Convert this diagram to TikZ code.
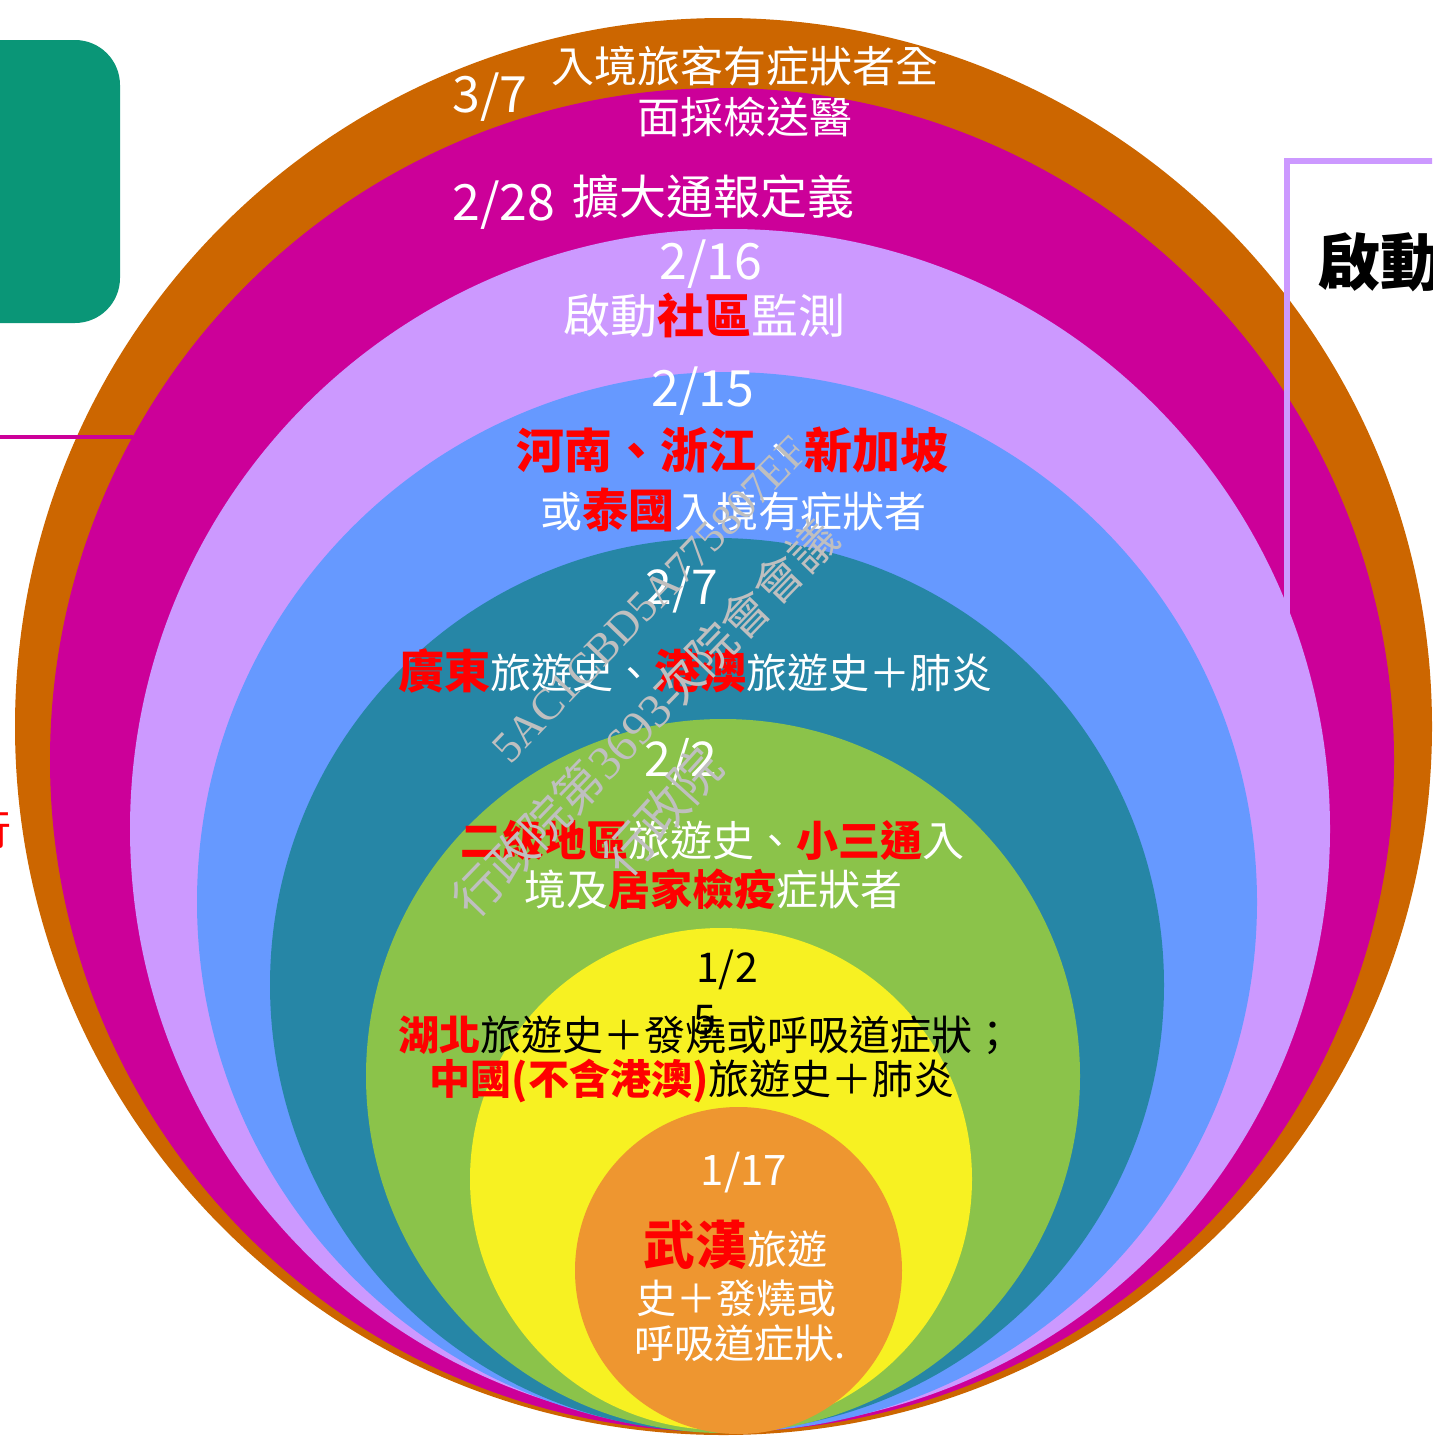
\documentclass[tikz,border=0pt]{standalone}
\usepackage{fontspec}
\usepackage{tikz}
\usepackage{xcolor}
\newfontfamily\cjk{Noto Sans CJK TC}
\newfontfamily\wmfont{Liberation Serif}
\definecolor{ringA}{HTML}{CC6600}
\definecolor{ringB}{HTML}{CC0099}
\definecolor{ringC}{HTML}{CC99FF}
\definecolor{ringD}{HTML}{6699FF}
\definecolor{ringE}{HTML}{2686A6}
\definecolor{ringF}{HTML}{8BC34A}
\definecolor{ringG}{HTML}{F7F122}
\definecolor{ringH}{HTML}{EE9630}
\definecolor{boxgreen}{HTML}{0A9677}
\newcommand{\fs}[1]{\fontsize{#1}{#1}\selectfont}
\newcommand{\hl}[2]{{\fs{#1}\bfseries\color{red}#2}}

\begin{document}
\begin{tikzpicture}[x=1pt,y=-1pt,
  every node/.style={inner sep=0pt,font=\cjk},
  date/.style={text=white},
  txt/.style={text=white},
  wm/.style={text=gray!50}]
\clip (0,0) rectangle (1432,1440);
% \draw[densely dotted] (0,0) grid[step=100] (1432,1440);
\fill[boxgreen,rounded corners=45pt] (-80,40) rectangle (120,323);
\fill[ringA] (723.5,726.5) circle (708.5pt);
\fill[ringB] (722,760) circle (672pt);
\fill[ringC] (730,829) circle (600pt);
\fill[ringD] (727,902) circle (530pt);
\fill[ringE] (717,985) circle (447pt);
\fill[ringF] (723,1076) circle (357pt);
\fill[ringG] (721,1179) circle (251pt);
\fill[ringH] (738.5,1270.5) circle (163.5pt);
\draw[ringB,line width=4pt] (0,437) -- (133,437);
\draw[ringC,line width=6pt] (1440,161) -- (1287,161) -- (1287,615);
\node[anchor=west,font=\cjk\bfseries\fs{62}] (qidong) at (1318,262) {啟動};
\node[anchor=east,text=red,font=\cjk\fs{42}] (cut) at (12,830) {行};

\node[date,font=\cjk\fs{50}] (d37) at (490,97) {3/7};
\node[txt,font=\cjk\fs{43}] (t37a) at (745,66) {入境旅客有症狀者全};
\node[txt,font=\cjk\fs{43}] (t37b) at (745,117) {面採檢送醫};

\node[date,font=\cjk\fs{50}] (d228) at (504,205) {2/28};
\node[txt,font=\cjk\fs{47}] (t228) at (713,197) {擴大通報定義};

\node[date,font=\cjk\fs{50}] (d216) at (711,264) {2/16};
\node[txt,font=\cjk\fs{47}] (t216) at (704,315) {啟動\hl{47}{社區}監測};

\node[date,font=\cjk\fs{50}] (d215) at (703,391) {2/15};
\node[txt,font=\cjk\fs{48}] (t215a) at (732,450) {\hl{48}{河南、浙江}、\hl{48}{新加坡}};
\node[txt,font=\cjk\fs{42}] (t215b) at (733,510) {或\hl{46}{泰國}入境有症狀者};

\node[date,font=\cjk\fs{48}] (d207) at (682,590) {2/7};
\node[txt,font=\cjk\fs{41}] (t207) at (695,671) {\hl{46}{廣東}旅遊史、\hl{46}{港澳}旅遊史＋肺炎};

\node[date,font=\cjk\fs{48}] (d202) at (681,762) {2/2};
\node[txt,font=\cjk\fs{42}] (t202a) at (712,840) {\hl{42}{二級地區}旅遊史、\hl{42}{小三通}入};
\node[txt,font=\cjk\fs{42}] (t202b) at (713,889) {境及\hl{42}{居家檢疫}症狀者};

\node[font=\cjk\fs{41}] (d125) at (727,970) {1/2};
\node[font=\cjk\fs{41}] (d125b) at (705,1020) {5};
\node[font=\cjk\fs{41}] (t125a) at (706,1035) {\hl{41}{湖北}旅遊史＋發燒或呼吸道症狀；};
\node[font=\cjk\fs{41}] (t125b) at (692,1081) {\hl{41}{中國(不含港澳)}旅遊史＋肺炎};

\node[date,font=\cjk\fs{42}] (d117) at (744,1173) {1/17};
\node[txt,font=\cjk\fs{40}] (t117a) at (735,1245) {\hl{52}{武漢}旅遊};
\node[txt,font=\cjk\fs{40}] (t117b) at (736,1298) {史＋發燒或};
\node[txt,font=\cjk\fs{40}] (t117c) at (740,1343) {呼吸道症狀.};

\node[wm,rotate=46,font=\wmfont\fs{44}] (wm1) at (650,600) {5AC1CBD5A775807EF};
\node[wm,rotate=46,font=\cjk\fs{48}] (wm2) at (645,718) {行政院第{\wmfont 3693}次院會會議};
\node[wm,rotate=48,font=\cjk\fs{50}] (wm3) at (662,812) {行政院};
\end{tikzpicture}
\end{document}
